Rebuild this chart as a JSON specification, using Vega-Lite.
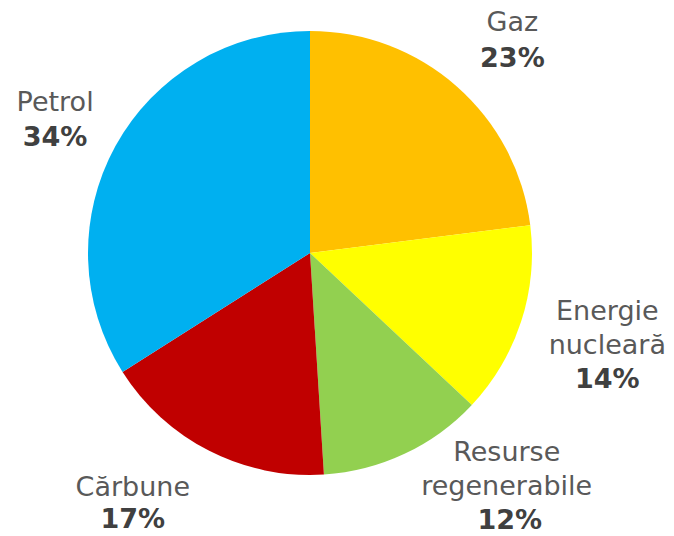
{
  "$schema": "https://vega.github.io/schema/vega-lite/v6.json",
  "autosize": "none",
  "width": 620,
  "height": 506,
  "padding": {"left": 0, "top": 0, "right": 54, "bottom": 30},
  "background": "white",
  "config": {"view": {"stroke": null}, "text": {"font": "DejaVu Sans", "fontSize": 27, "lineHeight": 34}},
  "data": {"values": [
    {"idx": 1, "name": "Gaz", "label": "Gaz", "value": 23, "pct": "23%"},
    {"idx": 2, "name": "Energie nucleară", "label": "Energie\nnucleară", "value": 14, "pct": "14%"},
    {"idx": 3, "name": "Resurse regenerabile", "label": "Resurse\nregenerabile", "value": 12, "pct": "12%"},
    {"idx": 4, "name": "Cărbune", "label": "Cărbune", "value": 17, "pct": "17%"},
    {"idx": 5, "name": "Petrol", "label": "Petrol", "value": 34, "pct": "34%"}
  ]},
  "encoding": {
    "theta": {"field": "value", "type": "quantitative", "stack": true},
    "order": {"field": "idx", "type": "quantitative"}
  },
  "layer": [
    {
      "mark": {"type": "arc", "outerRadius": 222},
      "encoding": {
        "color": {"field": "name", "type": "nominal", "legend": null,
          "scale": {"domain": ["Gaz", "Energie nucleară", "Resurse regenerabile", "Cărbune", "Petrol"],
                    "range": ["#FFC000", "#FFFF00", "#92D050", "#C00000", "#00B0F0"]}}
      }
    },
    {"mark": {"type": "text", "radius": 300, "lineBreak": "\n", "baseline": "middle", "align": "center", "color": "#595959", "dx": 4, "dy": -5},
     "encoding": {"text": {"condition": {"test": "datum.name === 'Gaz'", "field": "label"}, "value": ""}}},
    {"mark": {"type": "text", "radius": 300, "baseline": "middle", "align": "center", "color": "#404040", "fontWeight": "bold", "dx": 4, "dy": 31},
     "encoding": {"text": {"condition": {"test": "datum.name === 'Gaz'", "field": "pct"}, "value": ""}}},
    {"mark": {"type": "text", "radius": 300, "lineBreak": "\n", "baseline": "middle", "align": "center", "color": "#595959", "dx": 12, "dy": -34},
     "encoding": {"text": {"condition": {"test": "datum.name === 'Energie nucleară'", "field": "label"}, "value": ""}}},
    {"mark": {"type": "text", "radius": 300, "baseline": "middle", "align": "center", "color": "#404040", "fontWeight": "bold", "dx": 12, "dy": 34},
     "encoding": {"text": {"condition": {"test": "datum.name === 'Energie nucleară'", "field": "pct"}, "value": ""}}},
    {"mark": {"type": "text", "radius": 300, "lineBreak": "\n", "baseline": "middle", "align": "center", "color": "#595959", "dx": 69, "dy": -71},
     "encoding": {"text": {"condition": {"test": "datum.name === 'Resurse regenerabile'", "field": "label"}, "value": ""}}},
    {"mark": {"type": "text", "radius": 300, "baseline": "middle", "align": "center", "color": "#404040", "fontWeight": "bold", "dx": 72, "dy": -3},
     "encoding": {"text": {"condition": {"test": "datum.name === 'Resurse regenerabile'", "field": "pct"}, "value": ""}}},
    {"mark": {"type": "text", "radius": 300, "lineBreak": "\n", "baseline": "middle", "align": "center", "color": "#595959", "dx": -41, "dy": -32},
     "encoding": {"text": {"condition": {"test": "datum.name === 'Cărbune'", "field": "label"}, "value": ""}}},
    {"mark": {"type": "text", "radius": 300, "baseline": "middle", "align": "center", "color": "#404040", "fontWeight": "bold", "dx": -41, "dy": 0},
     "encoding": {"text": {"condition": {"test": "datum.name === 'Cărbune'", "field": "pct"}, "value": ""}}},
    {"mark": {"type": "text", "radius": 300, "lineBreak": "\n", "baseline": "middle", "align": "center", "color": "#595959", "dx": 8, "dy": -5},
     "encoding": {"text": {"condition": {"test": "datum.name === 'Petrol'", "field": "label"}, "value": ""}}},
    {"mark": {"type": "text", "radius": 300, "baseline": "middle", "align": "center", "color": "#404040", "fontWeight": "bold", "dx": 8, "dy": 30},
     "encoding": {"text": {"condition": {"test": "datum.name === 'Petrol'", "field": "pct"}, "value": ""}}}
  ]
}
